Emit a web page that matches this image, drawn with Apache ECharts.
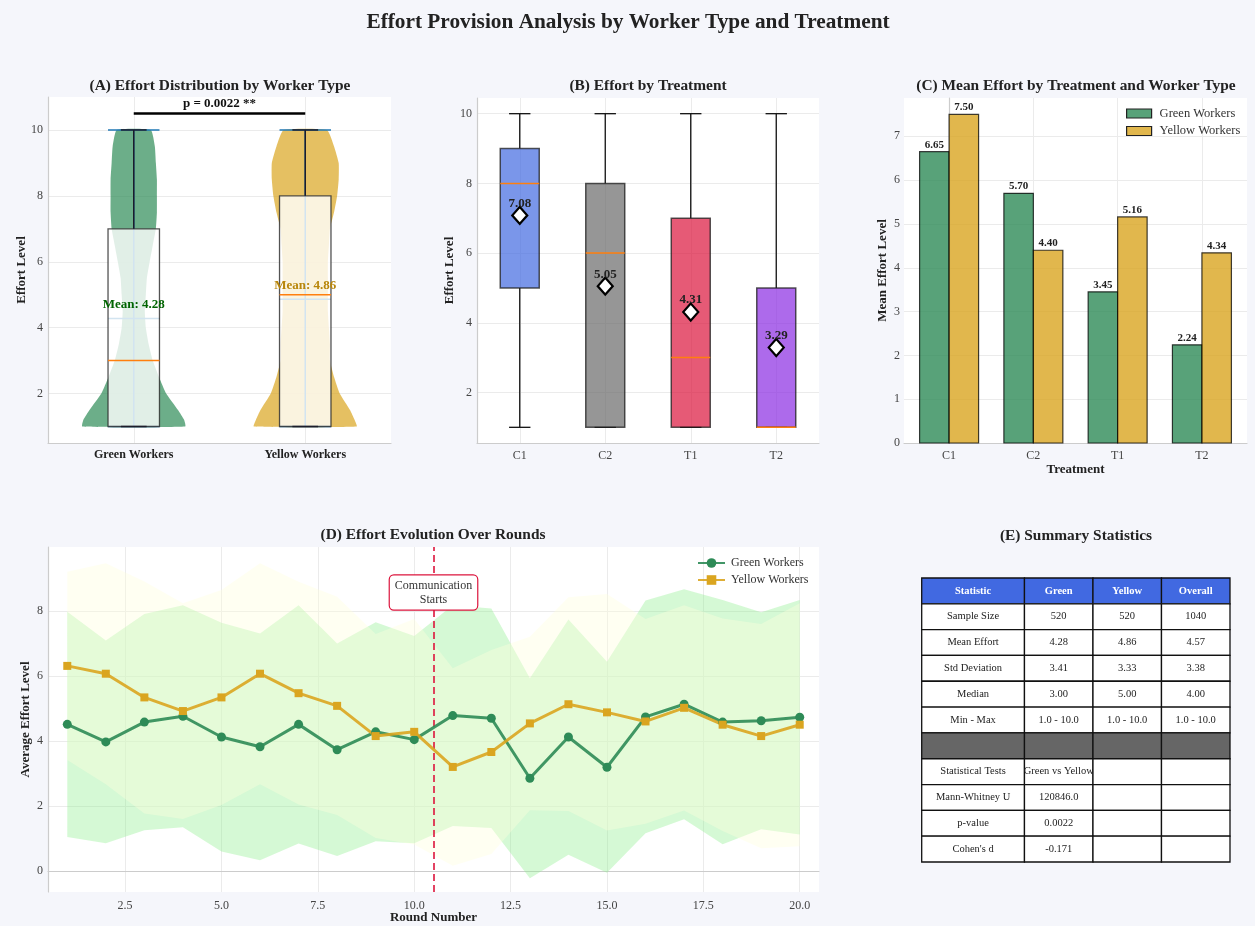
<!DOCTYPE html>
<html>
<head>
<meta charset="utf-8">
<title>Effort Provision Analysis</title>
<script src="https://cdn.jsdelivr.net/npm/echarts@6/dist/echarts.min.js"></script>
<style>
  html, body { margin: 0; padding: 0; background: #f5f6fb; }
  #chart { width: 1255px; height: 926px; }
</style>
</head>
<body>
<div id="chart"></div>
<script>
// ---------- data ----------
const workerTypes = ['Green Workers', 'Yellow Workers'];

// (A) violin outlines: relative density at each effort level
const violinLevels = [1, 1.2, 1.5, 2, 2.5, 3, 3.5, 4, 4.5, 5, 5.5, 6, 6.5, 7, 7.5, 8, 8.5, 9, 9.5, 10];
const greenDensity = [1.0, 0.98, 0.86, 0.63, 0.49, 0.37, 0.29, 0.235, 0.215, 0.235, 0.255, 0.31, 0.37, 0.43, 0.45, 0.45, 0.45, 0.43, 0.41, 0.33];
const yellowDensity = [1.0, 0.96, 0.87, 0.67, 0.56, 0.48, 0.48, 0.46, 0.44, 0.44, 0.44, 0.44, 0.46, 0.48, 0.56, 0.62, 0.65, 0.65, 0.56, 0.42];
// [min, Q1, median, Q3, max]
const greenBox = [1, 1, 3, 7, 10];
const yellowBox = [1, 1, 5, 8, 10];
const workerMeans = [4.28, 4.86];
const pValueLabel = 'p = 0.0022 **';
const bracketLevel = 10.5;

// (B) effort by treatment
const treatments = ['C1', 'C2', 'T1', 'T2'];
const treatmentBoxes = [
  [1, 5, 8, 9, 10],
  [1, 1, 6, 8, 10],
  [1, 1, 3, 7, 10],
  [1, 1, 1, 5, 10]
];
const treatmentMeans = [7.08, 5.05, 4.31, 3.29];

// (C) mean effort by treatment and worker type
const greenTreatmentMeans = [6.65, 5.70, 3.45, 2.24];
const yellowTreatmentMeans = [7.50, 4.40, 5.16, 4.34];

// (D) effort over rounds
const rounds = [1, 2, 3, 4, 5, 6, 7, 8, 9, 10, 11, 12, 13, 14, 15, 16, 17, 18, 19, 20];
const greenRoundMean = [4.51, 3.97, 4.58, 4.76, 4.12, 3.82, 4.51, 3.73, 4.28, 4.04, 4.78, 4.70, 2.85, 4.12, 3.19, 4.74, 5.13, 4.58, 4.62, 4.73];
const yellowRoundMean = [6.31, 6.07, 5.34, 4.92, 5.34, 6.07, 5.47, 5.08, 4.15, 4.28, 3.20, 3.66, 4.54, 5.13, 4.88, 4.60, 5.02, 4.50, 4.15, 4.50];
const greenRoundSd = [3.47, 3.12, 3.33, 3.42, 3.52, 3.49, 3.67, 3.27, 3.37, 3.19, 3.40, 3.38, 3.08, 3.62, 3.25, 3.58, 3.54, 3.76, 3.34, 3.61];
const yellowRoundSd = [2.90, 3.40, 3.57, 3.32, 3.31, 3.40, 3.43, 3.36, 3.14, 3.47, 3.04, 3.14, 2.67, 3.29, 3.64, 3.15, 3.16, 3.27, 3.45, 3.74];
const communicationRound = 10.5;
const communicationLabel = 'Communication\nStarts';
const roundTicks = [2.5, 5, 7.5, 10, 12.5, 15, 17.5, 20];

// (E) summary table
const tableHeader = ['Statistic', 'Green', 'Yellow', 'Overall'];
const tableBody = [
  ['Sample Size', '520', '520', '1040'],
  ['Mean Effort', '4.28', '4.86', '4.57'],
  ['Std Deviation', '3.41', '3.33', '3.38'],
  ['Median', '3.00', '5.00', '4.00'],
  ['Min - Max', '1.0 - 10.0', '1.0 - 10.0', '1.0 - 10.0'],
  ['', '', '', ''],
  ['Statistical Tests', 'Green vs Yellow', '', ''],
  ['Mann-Whitney U', '120846.0', '', ''],
  ['p-value', '0.0022', '', ''],
  ["Cohen's d", '-0.171', '', '']
];

// ---------- styling ----------
const FONT = '"Liberation Serif", "DejaVu Serif", serif';
const GRID_LINE = '#ebebeb';
const AXIS_LINE = '#cccccc';
const TICK_COLOR = '#444';

const violinDensity = [greenDensity, yellowDensity];
const workerBoxStats = [greenBox, yellowBox];
const violinFill = ['rgba(46,139,87,0.7)', 'rgba(218,165,32,0.7)'];
const meanTextColor = ['#006400', '#B8860B'];
const treatmentFill = ['rgba(65,105,225,0.7)', 'rgba(105,105,105,0.7)', 'rgba(220,20,60,0.7)', 'rgba(138,43,226,0.7)'];

function line(p1, p2, stroke, width, extra) {
  return Object.assign({
    type: 'line',
    shape: { x1: p1[0], y1: p1[1], x2: p2[0], y2: p2[1] },
    style: { stroke: stroke, lineWidth: width }
  }, extra || {});
}

function valueAxis(gridIndex, min, max, ticks, opts) {
  opts = opts || {};
  return {
    type: 'value',
    gridIndex: gridIndex,
    min: min,
    max: max,
    axisLine: { show: true, lineStyle: { color: AXIS_LINE, width: 1.2 } },
    axisTick: { show: false, customValues: ticks },
    axisLabel: Object.assign({
      customValues: ticks,
      color: TICK_COLOR,
      fontSize: 12,
      fontFamily: FONT,
      margin: 7
    }, opts.label || {}),
    splitLine: { show: true, lineStyle: { color: GRID_LINE, width: 1 } },
    name: opts.name || '',
    nameLocation: 'middle',
    nameGap: opts.nameGap || 20,
    nameMoveOverlap: false,
    nameTextStyle: { fontFamily: FONT, fontSize: 13, fontWeight: 'bold', color: '#222' }
  };
}

// (A) violin + box for one worker type
function renderViolinBox(params, api) {
  const i = params.dataIndex;
  const xc = api.value(0);
  const mean = api.value(1);
  const dens = violinDensity[i];
  const s = workerBoxStats[i];
  const halfViolin = 0.3, halfLine = 0.15, halfBox = 0.15, halfCap = 0.075;

  const pts = [];
  for (let k = 0; k < violinLevels.length; k++) pts.push(api.coord([xc + dens[k] * halfViolin, violinLevels[k]]));
  for (let k = violinLevels.length - 1; k >= 0; k--) pts.push(api.coord([xc - dens[k] * halfViolin, violinLevels[k]]));

  const blue = '#1f77b4';
  const c = (x, y) => api.coord([x, y]);
  const boxTL = c(xc - halfBox, s[3]);
  const boxBR = c(xc + halfBox, s[1]);
  const midTop = c(xc, mean + 0.42);

  return {
    type: 'group',
    children: [
      { type: 'polygon', shape: { points: pts, smooth: 0.15 }, style: { fill: violinFill[i] } },
      line(c(xc, s[0]), c(xc, s[4]), blue, 1.5),
      line(c(xc - halfLine, s[4]), c(xc + halfLine, s[4]), blue, 1.5),
      line(c(xc - halfLine, s[0]), c(xc + halfLine, s[0]), blue, 1.5),
      line(c(xc - halfLine, mean), c(xc + halfLine, mean), blue, 1.5),
      {
        type: 'rect',
        shape: { x: boxTL[0], y: boxTL[1], width: boxBR[0] - boxTL[0], height: boxBR[1] - boxTL[1] },
        style: { fill: 'rgba(255,255,255,0.8)', stroke: 'rgba(40,40,40,0.8)', lineWidth: 1.3 }
      },
      line(c(xc, s[3]), c(xc, s[4]), '#1c1c2a', 1.5),
      line(c(xc, s[1]), c(xc, s[0]), '#1c1c2a', 1.5),
      line(c(xc - halfCap, s[4]), c(xc + halfCap, s[4]), '#1c1c2a', 1.5),
      line(c(xc - halfCap, s[0]), c(xc + halfCap, s[0]), '#1c1c2a', 1.5),
      line(c(xc - halfBox, s[2]), c(xc + halfBox, s[2]), '#ff7f0e', 1.5),
      {
        type: 'text',
        x: midTop[0], y: midTop[1],
        style: {
          text: 'Mean: ' + mean.toFixed(2),
          align: 'center', verticalAlign: 'middle',
          font: 'bold 13px ' + FONT, fill: meanTextColor[i]
        }
      }
    ]
  };
}

// (A) significance bracket
function renderBracket(params, api) {
  const y = api.value(1);
  const a = api.coord([1, y]);
  const b = api.coord([2, y]);
  return {
    type: 'group',
    children: [
      line(a, b, '#000', 2.6),
      {
        type: 'text',
        x: (a[0] + b[0]) / 2, y: a[1] - 10,
        style: { text: pValueLabel, align: 'center', verticalAlign: 'middle', font: 'bold 13px ' + FONT, fill: '#111' }
      }
    ]
  };
}

// (B) treatment box plots
function renderTreatmentBox(params, api) {
  const i = params.dataIndex;
  const xc = api.value(0);
  const s = treatmentBoxes[i];
  const halfBox = 0.228, halfCap = 0.125;
  const c = (x, y) => api.coord([x, y]);
  const tl = c(xc - halfBox, s[3]);
  const br = c(xc + halfBox, s[1]);
  return {
    type: 'group',
    children: [
      line(c(xc, s[3]), c(xc, s[4]), '#111', 1.3),
      line(c(xc, s[1]), c(xc, s[0]), '#111', 1.3),
      line(c(xc - halfCap, s[4]), c(xc + halfCap, s[4]), '#111', 1.3),
      line(c(xc - halfCap, s[0]), c(xc + halfCap, s[0]), '#111', 1.3),
      {
        type: 'rect',
        shape: { x: tl[0], y: tl[1], width: br[0] - tl[0], height: br[1] - tl[1] },
        style: { fill: treatmentFill[i], stroke: 'rgba(30,30,30,0.75)', lineWidth: 1.5 }
      },
      line(c(xc - halfBox, s[2]), c(xc + halfBox, s[2]), '#ff7f0e', 1.5)
    ]
  };
}

// (C) grouped bars; side -1 is left of the treatment position, +1 right
function barRenderer(side, fill) {
  const barW = 0.35;
  return function (params, api) {
    const x = api.value(0);
    const v = api.value(1);
    const x0 = side < 0 ? x - barW : x;
    const p0 = api.coord([x0, v]);
    const p1 = api.coord([x0 + barW, 0]);
    return {
      type: 'group',
      children: [
        {
          type: 'rect',
          shape: { x: p0[0], y: p0[1], width: p1[0] - p0[0], height: p1[1] - p0[1] },
          style: { fill: fill, stroke: 'rgba(0,0,0,0.75)', lineWidth: 1.2 }
        },
        {
          type: 'text',
          x: (p0[0] + p1[0]) / 2, y: p0[1] - 7,
          style: { text: v.toFixed(2), align: 'center', verticalAlign: 'middle', font: 'bold 11px ' + FONT, fill: '#222' }
        }
      ]
    };
  };
}

// (D) mean ± sd band
function bandRenderer(means, sds, fill) {
  return function (params, api) {
    if (params.dataIndex !== 0) return { type: 'group', children: [] };
    const upper = rounds.map((r, k) => api.coord([r, means[k] + sds[k]]));
    const lower = rounds.map((r, k) => api.coord([r, means[k] - sds[k]])).reverse();
    return { type: 'polygon', shape: { points: upper.concat(lower) }, style: { fill: fill }, silent: true };
  };
}

// (E) table cells
const tableRows = [tableHeader].concat(tableBody);
const colEdges = [0, 1.5, 2.5, 3.5, 4.5];
function renderCell(params, api) {
  const col = api.value(0);
  const row = api.value(1);
  const text = tableRows[row][col];
  const rowH = api.size([0, 1])[1];
  const left = api.coord([colEdges[col], row]);
  const right = api.coord([colEdges[col + 1], row]);
  const isHeader = row === 0;
  const isDivider = tableRows[row].every(t => t === '');
  const fill = isHeader ? '#4169E1' : (isDivider ? '#666666' : '#ffffff');
  return {
    type: 'group',
    children: [
      {
        type: 'rect',
        shape: { x: left[0], y: left[1] - rowH / 2, width: right[0] - left[0], height: rowH },
        style: { fill: fill, stroke: '#111', lineWidth: 1.3 }
      },
      {
        type: 'text',
        x: (left[0] + right[0]) / 2, y: left[1],
        style: {
          text: text, align: 'center', verticalAlign: 'middle',
          font: (isHeader ? 'bold ' : '') + '10.5px ' + FONT,
          fill: isHeader ? '#ffffff' : '#222'
        }
      }
    ]
  };
}
const cellData = [];
tableRows.forEach((r, ri) => r.forEach((_, ci) => cellData.push([ci, ri])));

// ---------- chart ----------
const chart = echarts.init(document.getElementById('chart'), null, { renderer: 'canvas' });

function title(text, x, y, size) {
  return {
    type: 'text', x: x, y: y, z: 100,
    style: { text: text, align: 'center', verticalAlign: 'middle', font: 'bold ' + size + 'px ' + FONT, fill: '#222' }
  };
}

const gridBase = { show: true, backgroundColor: '#ffffff', borderWidth: 0, containLabel: false };

const option = {
  backgroundColor: '#f5f6fb',
  animation: false,
  textStyle: { fontFamily: FONT },
  graphic: [
    title('Effort Provision Analysis by Worker Type and Treatment', 628, 22, 21.3),
    title('(A) Effort Distribution by Worker Type', 220, 86, 15.4),
    title('(B) Effort by Treatment', 648, 86, 15.4),
    title('(C) Mean Effort by Treatment and Worker Type', 1076, 86, 15.4),
    title('(D) Effort Evolution Over Rounds', 433, 535, 15.4),
    title('(E) Summary Statistics', 1076, 536, 15.4)
  ],
  grid: [
    Object.assign({ left: 48, top: 97, width: 343, height: 346 }, gridBase),
    Object.assign({ left: 477, top: 98, width: 342, height: 345 }, gridBase),
    Object.assign({ left: 904, top: 98, width: 343, height: 345 }, gridBase),
    Object.assign({ left: 48, top: 547, width: 771, height: 345 }, gridBase),
    { left: 921.7, top: 578, width: 308.3, height: 284, show: false }
  ],
  xAxis: [
    valueAxis(0, 0.5, 2.5, [1, 2], {
      label: { formatter: v => workerTypes[Math.round(v) - 1], fontWeight: 'bold', color: '#222', margin: 6 }
    }),
    valueAxis(1, 0.5, 4.5, [1, 2, 3, 4], { label: { formatter: v => treatments[Math.round(v) - 1] } }),
    valueAxis(2, -0.535, 3.535, [0, 1, 2, 3], {
      label: { formatter: v => treatments[Math.round(v)] }, name: 'Treatment', nameGap: 20
    }),
    valueAxis(3, 0.5, 20.5, roundTicks, {
      label: { formatter: v => v.toFixed(1), margin: 8 }, name: 'Round Number', nameGap: 19
    }),
    { type: 'value', gridIndex: 4, min: 0, max: 4.5, show: false }
  ],
  yAxis: [
    valueAxis(0, 0.5, 11, [2, 4, 6, 8, 10], { name: 'Effort Level', nameGap: 19.5, label: { margin: 5 } }),
    valueAxis(1, 0.55, 10.45, [2, 4, 6, 8, 10], { name: 'Effort Level', nameGap: 20.5, label: { margin: 5 } }),
    valueAxis(2, 0, 7.875, [0, 1, 2, 3, 4, 5, 6, 7], { name: 'Mean Effort Level', nameGap: 14.5, label: { margin: 4 } }),
    valueAxis(3, -0.65, 9.97, [0, 2, 4, 6, 8], { name: 'Average Effort Level', nameGap: 15.5, label: { margin: 5 } }),
    { type: 'category', gridIndex: 4, inverse: true, show: false, data: tableRows.map((_, i) => String(i)) }
  ],
  legend: [
    {
      orient: 'vertical', left: 697, top: 557, padding: 0, itemWidth: 27, itemHeight: 12, itemGap: 5,
      textStyle: { fontFamily: FONT, fontSize: 12, color: '#333', padding: [0, 0, 0, 1] },
      data: ['Green Workers', 'Yellow Workers']
    },
    {
      orient: 'vertical', left: 1126, top: 107, padding: 0, itemWidth: 25, itemHeight: 9, itemGap: 4.5,
      textStyle: { fontFamily: FONT, fontSize: 12.5, color: '#333', padding: [0, 0, 0, 3] },
      data: [
        { name: 'Green Workers', icon: 'rect', itemStyle: { color: 'rgba(46,139,87,0.8)', borderColor: '#222', borderWidth: 1.2 } },
        { name: 'Yellow Workers', icon: 'rect', itemStyle: { color: 'rgba(218,165,32,0.8)', borderColor: '#222', borderWidth: 1.2 } }
      ]
    }
  ],
  series: [
    // (D) round-by-round lines (listed first so their legend icons are used in panel D)
    {
      name: 'Green Workers', type: 'line', xAxisIndex: 3, yAxisIndex: 3, z: 5,
      data: rounds.map((r, k) => [r, greenRoundMean[k]]),
      symbol: 'circle', symbolSize: 9,
      lineStyle: { color: '#2E8B57', width: 3, opacity: 0.9 },
      itemStyle: { color: '#2E8B57' },
      markLine: {
        silent: true, symbol: 'none', label: { show: false },
        lineStyle: { color: 'rgba(220,20,60,0.8)', width: 2, type: [7, 4] },
        data: [{ xAxis: communicationRound }]
      },
      markPoint: {
        silent: true, symbol: 'rect', symbolSize: 1, itemStyle: { color: 'rgba(0,0,0,0)' },
        label: {
          show: true, position: 'inside', formatter: communicationLabel,
          fontFamily: FONT, fontSize: 12, color: '#333', lineHeight: 14, align: 'center',
          backgroundColor: '#ffffff', borderColor: '#DC143C', borderWidth: 1.2, borderRadius: 4,
          padding: [3, 5]
        },
        data: [{ coord: [communicationRound, 8.57] }]
      }
    },
    {
      name: 'Yellow Workers', type: 'line', xAxisIndex: 3, yAxisIndex: 3, z: 5,
      data: rounds.map((r, k) => [r, yellowRoundMean[k]]),
      symbol: 'rect', symbolSize: 8,
      lineStyle: { color: '#DAA520', width: 3, opacity: 0.9 },
      itemStyle: { color: '#DAA520' }
    },
    {
      type: 'custom', xAxisIndex: 3, yAxisIndex: 3, z: 2, silent: true,
      data: rounds.map((r, k) => [r, greenRoundMean[k]]),
      renderItem: bandRenderer(greenRoundMean, greenRoundSd, 'rgba(144,238,144,0.38)')
    },
    {
      type: 'custom', xAxisIndex: 3, yAxisIndex: 3, z: 3, silent: true,
      data: rounds.map((r, k) => [r, yellowRoundMean[k]]),
      renderItem: bandRenderer(yellowRoundMean, yellowRoundSd, 'rgba(255,255,220,0.38)')
    },
    // (A)
    {
      type: 'custom', xAxisIndex: 0, yAxisIndex: 0, z: 3, silent: true,
      data: workerMeans.map((m, i) => [i + 1, m]),
      renderItem: renderViolinBox
    },
    {
      type: 'custom', xAxisIndex: 0, yAxisIndex: 0, z: 4, silent: true,
      data: [[1.5, bracketLevel]],
      renderItem: renderBracket
    },
    // (B)
    {
      type: 'custom', xAxisIndex: 1, yAxisIndex: 1, z: 3, silent: true,
      data: treatmentMeans.map((m, i) => [i + 1, m]),
      renderItem: renderTreatmentBox
    },
    {
      type: 'scatter', xAxisIndex: 1, yAxisIndex: 1, z: 6, silent: true,
      data: treatmentMeans.map((m, i) => [i + 1, m]),
      symbol: 'diamond', symbolSize: [15, 17],
      itemStyle: { color: '#ffffff', borderColor: '#000', borderWidth: 2.2, opacity: 1 },
      label: {
        show: true, position: 'inside', offset: [0, -12],
        formatter: p => p.value[1].toFixed(2),
        fontFamily: FONT, fontSize: 13, fontWeight: 'bold', color: '#222'
      }
    },
    // (C)
    {
      name: 'Green Workers', type: 'custom', xAxisIndex: 2, yAxisIndex: 2, z: 3, silent: true,
      itemStyle: { color: 'rgba(46,139,87,0.8)' },
      data: greenTreatmentMeans.map((v, i) => [i, v]),
      renderItem: barRenderer(-1, 'rgba(46,139,87,0.8)')
    },
    {
      name: 'Yellow Workers', type: 'custom', xAxisIndex: 2, yAxisIndex: 2, z: 3, silent: true,
      itemStyle: { color: 'rgba(218,165,32,0.8)' },
      data: yellowTreatmentMeans.map((v, i) => [i, v]),
      renderItem: barRenderer(1, 'rgba(218,165,32,0.8)')
    },
    // (E)
    {
      type: 'custom', xAxisIndex: 4, yAxisIndex: 4, z: 3, silent: true,
      data: cellData,
      renderItem: renderCell
    }
  ]
};

chart.setOption(option);
</script>
</body>
</html>
